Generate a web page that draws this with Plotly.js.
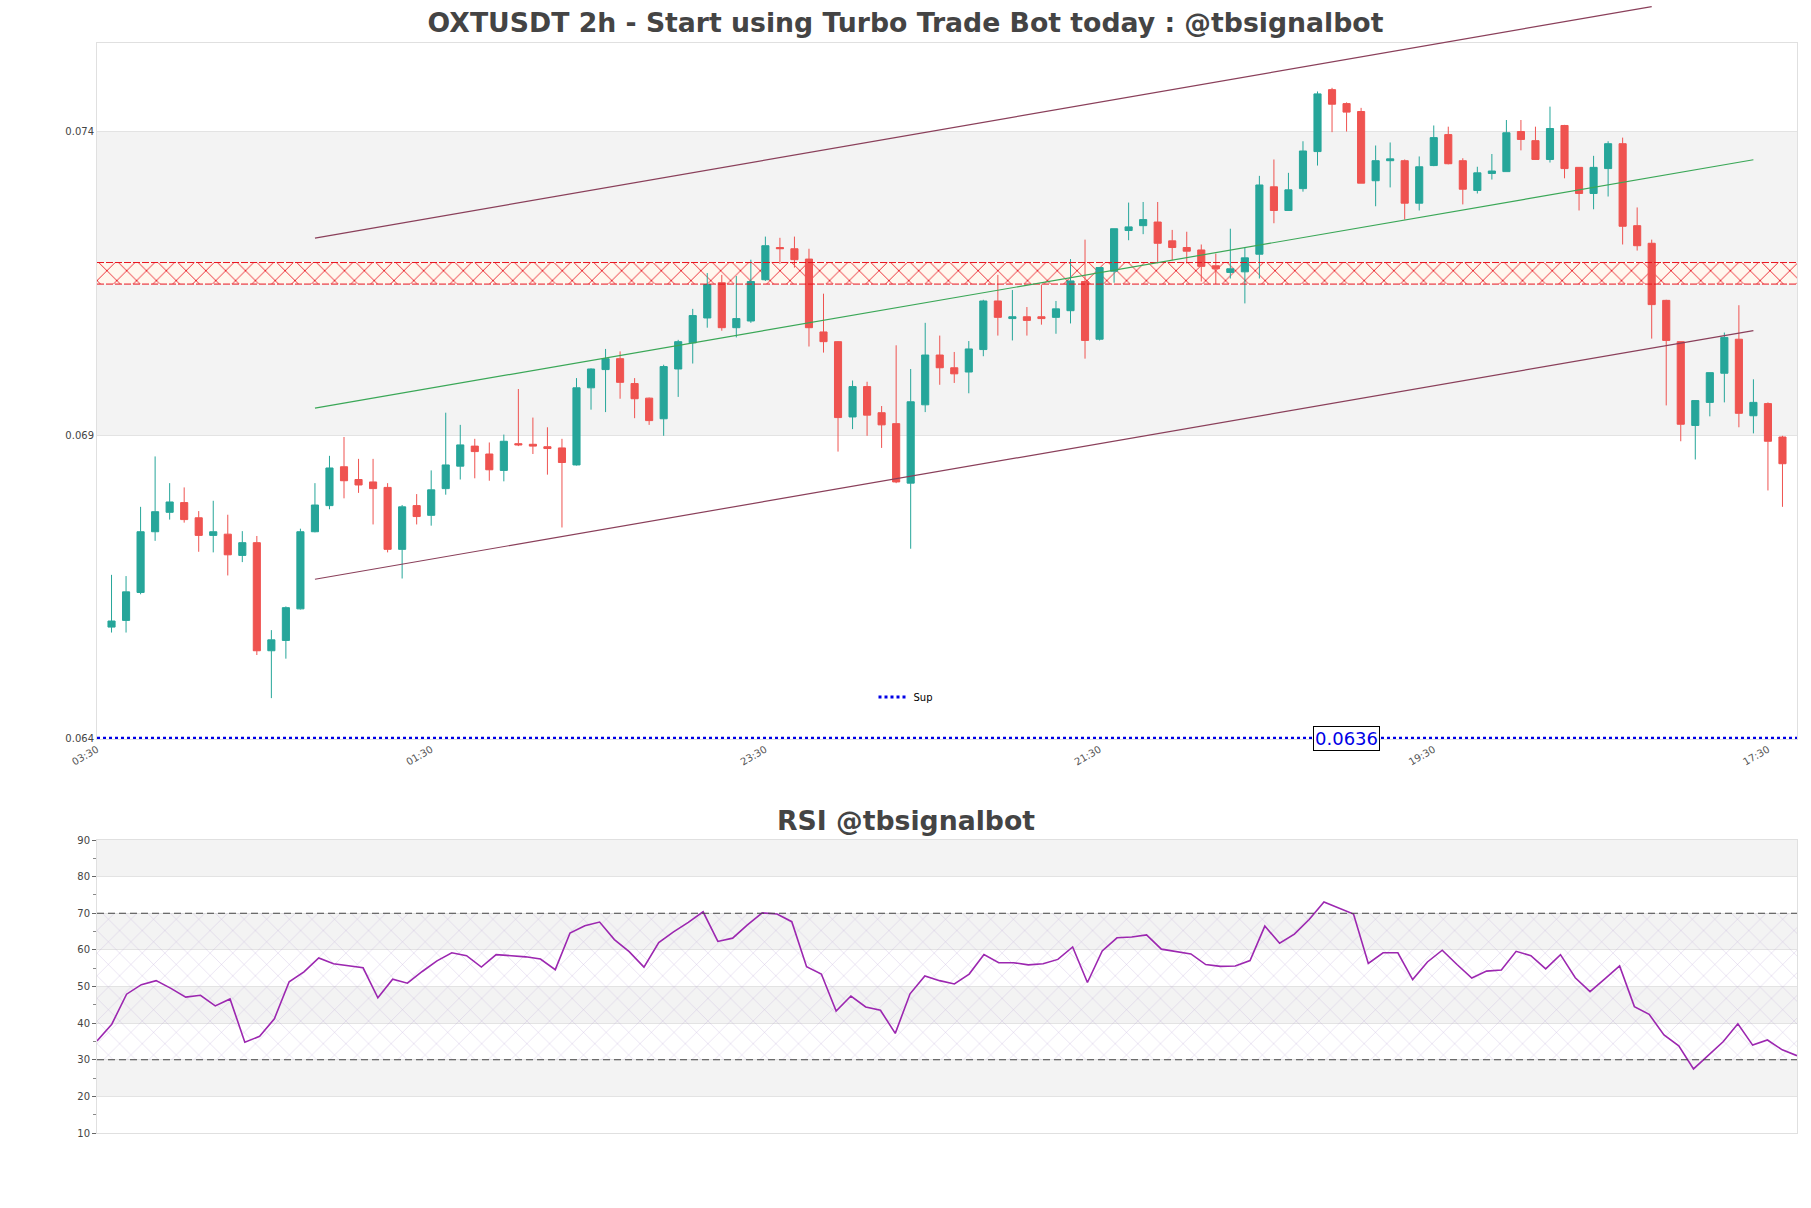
<!DOCTYPE html>
<html><head><meta charset="utf-8">
<script src="https://cdn.plot.ly/plotly-3.0.1.min.js"></script>
<style>html,body{margin:0;padding:0;background:#fff;}#chart{width:1811px;height:1208px;}</style>
</head><body><div id="chart"></div>
<script>
// ---------------- data ----------------
const openP = [0.06584,0.06595,0.06641,0.06741,0.06773,0.06789,0.06764,0.06735,0.06737,0.06702,
0.06723,0.06545,0.06562,0.06614,0.06741,0.06784,0.06848,0.06827,0.06823,0.06814,
0.06712,0.06784,0.06768,0.06812,0.06849,0.06882,0.06869,0.06842,0.06886,0.06885,
0.06881,0.06879,0.06851,0.06978,0.07008,0.07026,0.06985,0.06961,0.06927,0.07009,
0.07052,0.07093,0.07151,0.07077,0.07088,0.07156,0.07209,0.07207,0.07190,0.07070,
0.07054,0.06930,0.06980,0.06937,0.06919,0.06821,0.06950,0.07032,0.07011,0.07004,
0.07041,0.07121,0.07092,0.07095,0.07095,0.07094,0.07105,0.07153,0.07058,0.07170,
0.07237,0.07245,0.07251,0.07220,0.07209,0.07205,0.07179,0.07168,0.07169,0.07198,
0.07309,0.07270,0.07306,0.07367,0.07469,0.07446,0.07433,0.07319,0.07352,0.07352,
0.07282,0.07344,0.07395,0.07352,0.07303,0.07331,0.07334,0.07400,0.07385,0.07354,
0.07410,0.07341,0.07298,0.07339,0.07380,0.07245,0.07216,0.07122,0.07054,0.06916,
0.06954,0.07002,0.07058,0.06932,0.06952,0.06897];
const highP = [0.06670,0.06668,0.06782,0.06865,0.06821,0.06814,0.06775,0.06792,0.06769,0.06742,
0.06734,0.06579,0.06618,0.06746,0.06821,0.06866,0.06897,0.06861,0.06861,0.06821,
0.06785,0.06803,0.06842,0.06937,0.06917,0.06894,0.06888,0.06901,0.06976,0.06929,
0.06913,0.06894,0.06994,0.07010,0.07042,0.07038,0.06994,0.06962,0.07016,0.07057,
0.07108,0.07167,0.07164,0.07162,0.07189,0.07227,0.07225,0.07227,0.07207,0.07133,
0.07055,0.06990,0.06988,0.06948,0.07048,0.07009,0.07085,0.07064,0.07037,0.07055,
0.07123,0.07164,0.07139,0.07111,0.07148,0.07121,0.07190,0.07222,0.07176,0.07240,
0.07283,0.07284,0.07284,0.07238,0.07235,0.07214,0.07199,0.07240,0.07209,0.07327,
0.07354,0.07332,0.07384,0.07466,0.07472,0.07448,0.07439,0.07377,0.07382,0.07354,
0.07359,0.07410,0.07408,0.07356,0.07342,0.07363,0.07419,0.07419,0.07408,0.07441,
0.07411,0.07341,0.07360,0.07384,0.07390,0.07275,0.07222,0.07123,0.07054,0.06957,
0.07003,0.07069,0.07114,0.06992,0.06954,0.06899];
const lowP = [0.06575,0.06575,0.06638,0.06726,0.06761,0.06756,0.06708,0.06707,0.06669,0.06691,
0.06538,0.06467,0.06532,0.06613,0.06740,0.06778,0.06796,0.06805,0.06753,0.06707,
0.06664,0.06753,0.06751,0.06802,0.06827,0.06829,0.06825,0.06824,0.06882,0.06869,
0.06835,0.06748,0.06850,0.06942,0.06938,0.06960,0.06928,0.06917,0.06899,0.06963,
0.07018,0.07077,0.07072,0.07061,0.07085,0.07154,0.07182,0.07176,0.07046,0.07036,
0.06873,0.06910,0.06899,0.06879,0.06821,0.06713,0.06938,0.06983,0.06986,0.06969,
0.07030,0.07064,0.07056,0.07064,0.07082,0.07067,0.07084,0.07026,0.07056,0.07151,
0.07221,0.07231,0.07183,0.07188,0.07183,0.07153,0.07149,0.07158,0.07117,0.07158,
0.07249,0.07270,0.07301,0.07344,0.07399,0.07400,0.07315,0.07277,0.07308,0.07255,
0.07270,0.07343,0.07346,0.07280,0.07298,0.07321,0.07334,0.07369,0.07354,0.07349,
0.07323,0.07270,0.07272,0.07293,0.07214,0.07204,0.07059,0.06949,0.06890,0.06860,
0.06931,0.06954,0.06913,0.06903,0.06809,0.06782];
const closeP = [0.06594,0.06642,0.06741,0.06774,0.06790,0.06761,0.06735,0.06741,0.06703,0.06723,
0.06545,0.06563,0.06616,0.06741,0.06785,0.06846,0.06825,0.06818,0.06812,0.06712,
0.06782,0.06766,0.06810,0.06851,0.06884,0.06873,0.06843,0.06890,0.06884,0.06882,
0.06878,0.06855,0.06978,0.07009,0.07026,0.06987,0.06960,0.06924,0.07013,0.07054,
0.07097,0.07148,0.07077,0.07092,0.07153,0.07212,0.07207,0.07189,0.07077,0.07054,
0.06929,0.06980,0.06933,0.06917,0.06823,0.06955,0.07032,0.07011,0.07001,0.07042,
0.07121,0.07094,0.07095,0.07089,0.07092,0.07108,0.07154,0.07056,0.07176,0.07240,
0.07243,0.07255,0.07216,0.07209,0.07203,0.07178,0.07174,0.07174,0.07192,0.07312,
0.07270,0.07304,0.07368,0.07462,0.07445,0.07432,0.07315,0.07352,0.07355,0.07282,
0.07342,0.07390,0.07347,0.07305,0.07332,0.07335,0.07398,0.07387,0.07354,0.07405,
0.07339,0.07298,0.07341,0.07380,0.07244,0.07212,0.07115,0.07056,0.06918,0.06957,
0.07003,0.07061,0.06936,0.06954,0.06890,0.06853];
const rsiValues = [35.1,39.7,47.9,50.5,51.6,49.5,47.1,47.6,44.7,46.6,
34.8,36.4,41.2,51.3,54.0,57.8,56.2,55.7,55.1,46.9,
52.0,50.9,54.1,57.0,59.2,58.4,55.3,58.7,58.4,58.1,
57.5,54.6,64.6,66.6,67.6,62.8,59.5,55.3,62.0,64.9,
67.5,70.4,62.3,63.2,66.8,70.1,69.8,67.7,55.4,53.4,
43.3,47.4,44.4,43.5,37.2,48.0,52.9,51.6,50.7,53.4,
58.7,56.5,56.5,55.9,56.2,57.4,60.8,51.1,59.7,63.3,
63.5,64.1,60.2,59.6,58.9,56.0,55.5,55.6,57.1,66.5,
61.8,64.3,68.3,73.1,71.5,69.8,56.3,59.2,59.2,51.9,
56.7,59.9,56.0,52.3,54.2,54.5,59.6,58.4,54.8,58.7,
52.4,48.6,52.1,55.6,44.5,42.4,36.8,33.8,27.5,31.1,
34.9,39.8,34.0,35.4,32.7,31.1];

// channel lines: start candle, end candle, start price, end price
const upperChannel = {from: 15, to: 107, y0: 0.072245, y1: 0.076058};
const midChannel   = {from: 15, to: 114, y0: 0.069445, y1: 0.073535};
const lowerChannel = {from: 15, to: 114, y0: 0.066628, y1: 0.070723};
const resistZone = [0.071488, 0.071843];
const supLevel = 0.06401;
const supLabel = '0.0636';
const priceTicks = [0.064, 0.069, 0.074];
const priceTickText = ['0.064', '0.069', '0.074'];
const rsiTicks = [10, 20, 30, 40, 50, 60, 70, 80, 90];
const rsiLevels = [30, 70];
const xTickLabels = ['03:30', '01:30', '23:30', '21:30', '19:30', '17:30'];
const xTickIndex = [0, 23, 46, 69, 92, 115];

// ---------------- time axis ----------------
const START = Date.UTC(2024, 3, 1, 3, 30);
const STEP = 2 * 3600 * 1000;
function ts(k) { return new Date(START + k * STEP).toISOString().slice(0, 19).replace('T', ' '); }
const times = openP.map((_, i) => ts(i + 1));
const nSpan = openP.length + 1;
const xStart = ts(0), xEnd = ts(nSpan);

// ---------------- traces ----------------
const FONT = 'DejaVu Sans';
const ZONE_RED = '#e8141e';
const traces = [];
// resistance zone: a hatched bar spanning the whole time range (drawn beneath the candles)
traces.push({type: 'bar', x: [ts(nSpan / 2)], y: [resistZone[1] - resistZone[0]], base: [resistZone[0]],
  width: [nSpan * STEP], marker: {color: 'rgba(255,247,238,1)', line: {width: 0},
    pattern: {shape: 'x', fgcolor: ZONE_RED, fgopacity: 1, size: 14, solidity: 0.12, fillmode: 'overlay'}},
  hoverinfo: 'skip', showlegend: false, xaxis: 'x', yaxis: 'y'});
// candles
traces.push({type: 'candlestick', x: times, open: openP, high: highP, low: lowP, close: closeP,
  increasing: {line: {color: '#26a69a', width: 1}, fillcolor: '#26a69a'},
  decreasing: {line: {color: '#ef5350', width: 1}, fillcolor: '#ef5350'},
  showlegend: false, xaxis: 'x', yaxis: 'y'});
// dashed edges of the zone
for (const z of resistZone) {
  traces.push({x: [xStart, xEnd], y: [z, z], mode: 'lines', type: 'scatter',
    line: {color: ZONE_RED, width: 1, dash: '7px,2px'}, hoverinfo: 'skip', showlegend: false, xaxis: 'x', yaxis: 'y'});
}
// support
traces.push({x: [xStart, xEnd], y: [supLevel, supLevel], mode: 'lines', type: 'scatter', name: 'Sup',
  line: {color: '#0000e6', width: 3, dash: 'dot'}, showlegend: true, xaxis: 'x', yaxis: 'y'});
// RSI hatch area 30-70
traces.push({x: [times[0], times[times.length - 1]], y: [rsiLevels[0], rsiLevels[0]], mode: 'lines', type: 'scatter',
  line: {width: 0}, hoverinfo: 'skip', showlegend: false, xaxis: 'x2', yaxis: 'y2'});
traces.push({x: [times[0], times[times.length - 1]], y: [rsiLevels[1], rsiLevels[1]], mode: 'lines', type: 'scatter',
  fill: 'tonexty', fillcolor: 'rgba(0,0,0,0)',
  fillpattern: {shape: 'x', fgcolor: 'rgba(175,150,205,0.6)', bgcolor: 'rgba(0,0,0,0)', size: 16, solidity: 0.05},
  line: {width: 0}, hoverinfo: 'skip', showlegend: false, xaxis: 'x2', yaxis: 'y2'});
// RSI
traces.push({x: times, y: rsiValues, mode: 'lines', type: 'scatter', name: 'RSI',
  line: {color: '#9c27b0', width: 1.6}, showlegend: false, xaxis: 'x2', yaxis: 'y2'});

// ---------------- shapes ----------------
const shapes = [];
function bands(ticks, yref) {
  for (let i = 1; i < ticks.length - 1; i += 2) {
    shapes.push({type: 'rect', layer: 'below', xref: (yref === 'y' ? 'x' : 'x2') + ' domain', x0: 0, x1: 1,
      yref: yref, y0: ticks[i], y1: ticks[i + 1], fillcolor: '#f3f3f3', line: {width: 0}});
  }
}
bands(priceTicks, 'y');
bands(rsiTicks, 'y2');
for (const ch of [upperChannel, lowerChannel]) {
  shapes.push({type: 'line', layer: 'above', xref: 'x', yref: 'y', x0: ts(ch.from), x1: ts(ch.to), y0: ch.y0, y1: ch.y1,
    line: {color: '#8a3f5a', width: 1.2}});
}
shapes.push({type: 'line', layer: 'above', xref: 'x', yref: 'y', x0: ts(midChannel.from), x1: ts(midChannel.to),
  y0: midChannel.y0, y1: midChannel.y1, line: {color: '#3aa757', width: 1.2}});
for (const lv of rsiLevels) {
  shapes.push({type: 'line', layer: 'above', xref: 'x2 domain', x0: 0, x1: 1, yref: 'y2', y0: lv, y1: lv,
    line: {color: '#444', width: 1.2, dash: '7px,4px'}});
}

const H = 1208, mT = 43, mB = 75, plotH = H - mT - mB;
const layout = {
  width: 1811, height: 1208,
  margin: {l: 97, r: 14, t: mT, b: mB},
  paper_bgcolor: '#fff', plot_bgcolor: '#fff',
  font: {family: FONT, size: 10, color: '#444'},
  title: {text: 'OXTUSDT 2h - Start using Turbo Trade Bot today : @tbsignalbot',
    font: {family: FONT, size: 26.7, color: '#444', weight: 'bold'},
    x: 0.5, xref: 'container', xanchor: 'center', y: 1 - 23 / H, yref: 'container', yanchor: 'middle'},
  showlegend: true,
  legend: {orientation: 'h', x: (906 - 97) / 1700, xanchor: 'center', y: (1133 - 697) / plotH, yanchor: 'middle',
    font: {family: FONT, size: 10, color: '#000'}, bgcolor: 'rgba(0,0,0,0)'},
  xaxis: {domain: [0, 1], anchor: 'y', type: 'date', range: [xStart, xEnd], rangeslider: {visible: false},
    tickmode: 'array', tickvals: xTickIndex.map(ts), ticktext: xTickLabels, tickangle: -30,
    showgrid: false, zeroline: false, showline: true, mirror: true, linecolor: '#e0e0e0', ticks: '',
    tickfont: {family: FONT, size: 10, color: '#555'}},
  yaxis: {domain: [(1133 - 739) / plotH, 1], anchor: 'x', range: [0.063997, 0.075458],
    tickmode: 'array', tickvals: priceTicks, ticktext: priceTickText,
    showgrid: true, gridcolor: '#e3e3e3', zeroline: false, showline: true, mirror: true, linecolor: '#e0e0e0',
    ticks: '', tickfont: {family: FONT, size: 10, color: '#444'}},
  xaxis2: {domain: [0, 1], anchor: 'y2', type: 'date', range: [times[0], times[times.length - 1]],
    showticklabels: false, showgrid: false, zeroline: false, showline: true, mirror: true, linecolor: '#e0e0e0', ticks: ''},
  yaxis2: {domain: [0, (1133 - 840) / plotH], anchor: 'x2', range: [10, 90],
    tickmode: 'array', tickvals: rsiTicks, ticks: 'outside', ticklen: 4, tickcolor: '#666',
    minor: {dtick: 5, tick0: 5, ticks: 'outside', ticklen: 3, tickcolor: '#888', showgrid: false},
    showgrid: true, gridcolor: '#e3e3e3', zeroline: false, showline: true, mirror: true, linecolor: '#e0e0e0',
    tickfont: {family: FONT, size: 10, color: '#444'}},
  shapes: shapes,
  annotations: [
    {text: 'RSI @tbsignalbot', xref: 'paper', yref: 'paper', x: (905.5 - 97) / 1700, y: (1133 - 820) / plotH,
      xanchor: 'center', yanchor: 'middle', showarrow: false, font: {family: FONT, size: 26.7, color: '#444', weight: 'bold'}},
    {text: supLabel, xref: 'x', yref: 'y', x: ts(86), y: supLevel, xanchor: 'center', yanchor: 'middle', showarrow: false,
      font: {family: FONT, size: 18, color: '#0000e6'}, bgcolor: '#fff', bordercolor: '#000', borderwidth: 1, borderpad: 1}
  ]
};

const gd = document.getElementById('chart');
Plotly.newPlot(gd, traces, layout, {displayModeBar: false, responsive: false}).then(() => {
  // let the channel lines run past the plot frame, as in the source chart
  gd.querySelectorAll('.layer-above .shapelayer [clip-path], .layer-above .shapelayer').forEach(el => {
    el.removeAttribute('clip-path');
    el.style.clipPath = 'none';
  });
});
</script>
</body></html>
